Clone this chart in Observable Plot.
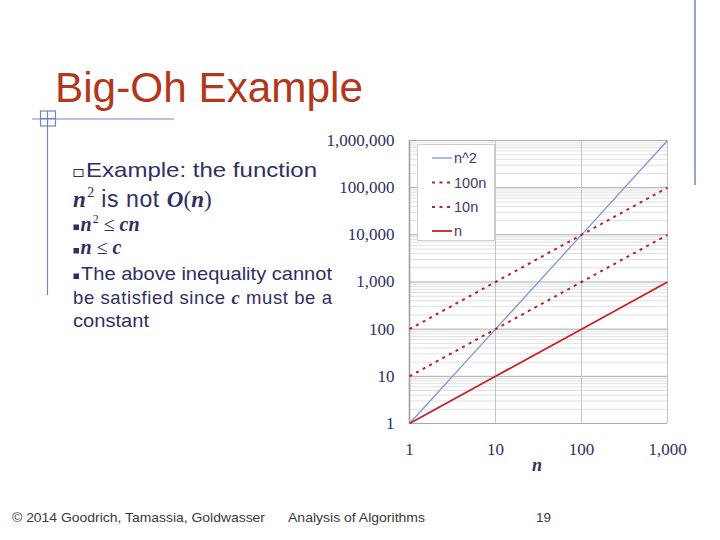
<!DOCTYPE html>
<html>
<head>
<meta charset="utf-8">
<script src="https://cdn.jsdelivr.net/npm/d3@7"></script>
<script src="https://cdn.jsdelivr.net/npm/@observablehq/plot@0.6"></script>
<style>
  html, body { margin: 0; padding: 0; background: #fff; }
  #slide { position: relative; width: 720px; height: 540px; overflow: hidden; background: #fff; }
  #chart { position: absolute; left: 300px; top: 120px; z-index: 1; }
  #overlay { position: absolute; left: 0; top: 0; z-index: 2; pointer-events: none; }
</style>
</head>
<body>
<div id="slide">
  <div id="chart"></div>
  <svg id="overlay" width="720" height="540"></svg>
</div>
<script>
// ---- data ----
const nValues = [1, 10, 100, 1000];
const nSquared = [1, 100, 10000, 1000000];
const hundredN = [100, 1000, 10000, 100000];
const tenN = [10, 100, 1000, 10000];
const linearN = [1, 10, 100, 1000];
const seriesNames = ["n^2", "100n", "10n", "n"];
const xTicks = [1, 10, 100, 1000];
const yTicks = [1, 10, 100, 1000, 10000, 100000, 1000000];

// ---- styles ----
const blue = "#8294d8";
const red = "#c8202a";
const dotRed = "#b52232";
const seriesStyle = {
  "n^2": {stroke: blue, strokeWidth: 1.3, dash: null},
  "100n": {stroke: dotRed, strokeWidth: 2, dash: "3,4.5"},
  "10n": {stroke: dotRed, strokeWidth: 2, dash: "3,4.5"},
  "n": {stroke: red, strokeWidth: 1.8, dash: null}
};
const seriesValues = {"n^2": nSquared, "100n": hundredN, "10n": tenN, "n": linearN};
const rows = seriesNames.flatMap(s => nValues.map((n, i) => ({series: s, n, v: seriesValues[s][i]})));

const minorY = d3.scaleLog().domain([1, 1e6]).ticks().filter(v => !yTicks.includes(v));
const textColor = "#2f2f62";

const lineMarks = seriesNames.map(s => Plot.line(rows.filter(r => r.series === s), {
  x: "n", y: "v",
  stroke: seriesStyle[s].stroke,
  strokeWidth: seriesStyle[s].strokeWidth,
  strokeDasharray: seriesStyle[s].dash,
  strokeLinecap: "butt"
}));

const chart = Plot.plot({
  width: 400,
  height: 360,
  marginLeft: 109,
  marginRight: 33,
  marginTop: 20,
  marginBottom: 57,
  style: {background: "transparent", fontFamily: "'Liberation Serif', serif", fontSize: "17px", color: textColor},
  x: {type: "log", domain: [1, 1000]},
  y: {type: "log", domain: [1, 1e6]},
  marks: [
    Plot.gridY(minorY, {stroke: "#e0e0e0", strokeOpacity: 1}),
    Plot.gridY(yTicks, {stroke: "#a9a9a9", strokeOpacity: 1}),
    Plot.gridX(xTicks, {stroke: "#c4c4c4", strokeOpacity: 1}),
    Plot.ruleX([1], {stroke: "#a0a0a0", strokeWidth: 1.6}),
    ...lineMarks,
    Plot.axisY(yTicks, {tickSize: 0, tickPadding: 15, tickFormat: d3.format(","), label: null, fill: textColor}),
    Plot.axisX(xTicks, {tickSize: 0, tickPadding: 19, tickFormat: d3.format(","), label: null, fill: textColor})
  ]
});
document.getElementById("chart").appendChild(chart);

// ---- overlay: slide text, decorations, legend ----
const svg = d3.select("#overlay");
const deco = "#7585bf";

// right vertical line
svg.append("line").attr("x1", 695).attr("x2", 695).attr("y1", 0).attr("y2", 185)
  .attr("stroke", deco).attr("stroke-width", 1.5);
// left decorations
svg.append("line").attr("x1", 32).attr("x2", 174).attr("y1", 119).attr("y2", 119).attr("stroke", deco).attr("stroke-width", 1.2);
svg.append("line").attr("x1", 47.5).attr("x2", 47.5).attr("y1", 111).attr("y2", 295).attr("stroke", deco).attr("stroke-width", 1.2);
svg.append("rect").attr("x", 40.5).attr("y", 111).attr("width", 15).attr("height", 15).attr("fill", "none").attr("stroke", deco).attr("stroke-width", 1.2);
svg.append("line").attr("x1", 40.5).attr("x2", 55.5).attr("y1", 118.5).attr("y2", 118.5).attr("stroke", deco).attr("stroke-width", 1.2);

// title
svg.append("text").attr("x", 55).attr("y", 102)
  .attr("font-family", "'Liberation Sans', Arial, sans-serif").attr("font-size", 43)
  .attr("fill", "#b3381b").attr("textLength", 308).attr("lengthAdjust", "spacingAndGlyphs")
  .text("Big-Oh Example");

const sans = "'Liberation Sans', Arial, sans-serif";
const serif = "'Liberation Serif', 'Times New Roman', serif";

// line 1
svg.append("rect").attr("x", 74).attr("y", 169.5).attr("width", 9).attr("height", 7)
  .attr("fill", "none").attr("stroke", textColor).attr("stroke-width", 1);
svg.append("text").attr("x", 86).attr("y", 177).attr("font-family", sans).attr("font-size", 21)
  .attr("fill", textColor).attr("textLength", 231).attr("lengthAdjust", "spacingAndGlyphs")
  .text("Example: the function");

// line 2
{
  const t = svg.append("text").attr("x", 73).attr("y", 207).attr("fill", textColor).attr("font-size", 23);
  t.append("tspan").attr("font-family", serif).attr("font-style", "italic").attr("font-weight", "bold").text("n");
  t.append("tspan").attr("font-family", serif).attr("font-size", 14).attr("dy", -10).attr("dx", 1.5).text("2");
  t.append("tspan").attr("font-family", sans).attr("dy", 10).attr("letter-spacing", 0.6).text(" is not ");
  t.append("tspan").attr("font-family", serif).attr("font-style", "italic").attr("font-weight", "bold").text("O");
  t.append("tspan").attr("font-family", serif).text("(");
  t.append("tspan").attr("font-family", serif).attr("font-style", "italic").attr("font-weight", "bold").text("n");
  t.append("tspan").attr("font-family", serif).text(")");
}

// bullets
function bullet(y) {
  svg.append("rect").attr("x", 73.5).attr("y", y - 5.5).attr("width", 5.5).attr("height", 5.5).attr("fill", textColor);
}
// line 3
bullet(230);
{
  const t = svg.append("text").attr("x", 80.5).attr("y", 231).attr("fill", textColor).attr("font-size", 20)
    .attr("font-family", serif).attr("font-style", "italic").attr("font-weight", "bold");
  t.append("tspan").text("n");
  t.append("tspan").attr("font-size", 12).attr("dy", -8).attr("dx", 1).attr("font-style", "normal").attr("font-weight", "normal").text("2");
  t.append("tspan").attr("dy", 8).attr("font-style", "normal").attr("font-weight", "normal").text(" ≤ ");
  t.append("tspan").text("cn");
}
// line 4
bullet(253.5);
{
  const t = svg.append("text").attr("x", 80.5).attr("y", 254).attr("fill", textColor).attr("font-size", 20)
    .attr("font-family", serif).attr("font-style", "italic").attr("font-weight", "bold");
  t.append("tspan").text("n");
  t.append("tspan").attr("font-style", "normal").attr("font-weight", "normal").text(" ≤ ");
  t.append("tspan").text("c");
}
// line 5
bullet(279);
svg.append("text").attr("x", 81).attr("y", 280).attr("font-family", sans).attr("font-size", 18.5)
  .attr("fill", textColor).attr("textLength", 251).attr("lengthAdjust", "spacingAndGlyphs")
  .text("The above inequality cannot");
// line 6
{
  const t = svg.append("text").attr("x", 73).attr("y", 304).attr("fill", textColor).attr("font-size", 18.5)
    .attr("font-family", sans).attr("letter-spacing", 0.6);
  t.append("tspan").text("be satisfied since ");
  t.append("tspan").attr("font-family", serif).attr("font-style", "italic").attr("font-weight", "bold").text("c");
  t.append("tspan").text(" must be a");
}
// line 7
svg.append("text").attr("x", 73).attr("y", 327).attr("font-family", sans).attr("font-size", 18.5)
  .attr("fill", textColor).attr("textLength", 76).attr("lengthAdjust", "spacingAndGlyphs")
  .text("constant");

// x axis title
svg.append("text").attr("x", 537).attr("y", 471).attr("text-anchor", "middle")
  .attr("font-family", serif).attr("font-style", "italic").attr("font-weight", "bold").attr("font-size", 18)
  .attr("fill", textColor).text("n");

// legend
const lg = svg.append("g");
lg.append("rect").attr("x", 417.5).attr("y", 144.5).attr("width", 77).attr("height", 96)
  .attr("fill", "#fff").attr("stroke", "#cfcfcf").attr("stroke-width", 1);
const legendY = [158, 182.5, 207, 231];
seriesNames.forEach((s, i) => {
  const st = seriesStyle[s];
  lg.append("line").attr("x1", 432).attr("x2", 452).attr("y1", legendY[i]).attr("y2", legendY[i])
    .attr("stroke", st.stroke).attr("stroke-width", st.strokeWidth).attr("stroke-dasharray", st.dash);
  lg.append("text").attr("x", 454).attr("y", legendY[i] + 5).attr("font-family", sans).attr("font-size", 14.5)
    .attr("fill", "#3c3c6a").text(s);
});

// footer
const footColor = "#3a3a3a";
svg.append("text").attr("x", 12).attr("y", 522).attr("font-family", sans).attr("font-size", 13.5)
  .attr("fill", footColor).attr("textLength", 253).attr("lengthAdjust", "spacingAndGlyphs")
  .text("© 2014 Goodrich, Tamassia, Goldwasser");
svg.append("text").attr("x", 288).attr("y", 522).attr("font-family", sans).attr("font-size", 13.5)
  .attr("fill", footColor).attr("textLength", 137).attr("lengthAdjust", "spacingAndGlyphs")
  .text("Analysis of Algorithms");
svg.append("text").attr("x", 536).attr("y", 522).attr("font-family", sans).attr("font-size", 13.5)
  .attr("fill", footColor).attr("textLength", 15).attr("lengthAdjust", "spacingAndGlyphs")
  .text("19");
</script>
</body>
</html>
